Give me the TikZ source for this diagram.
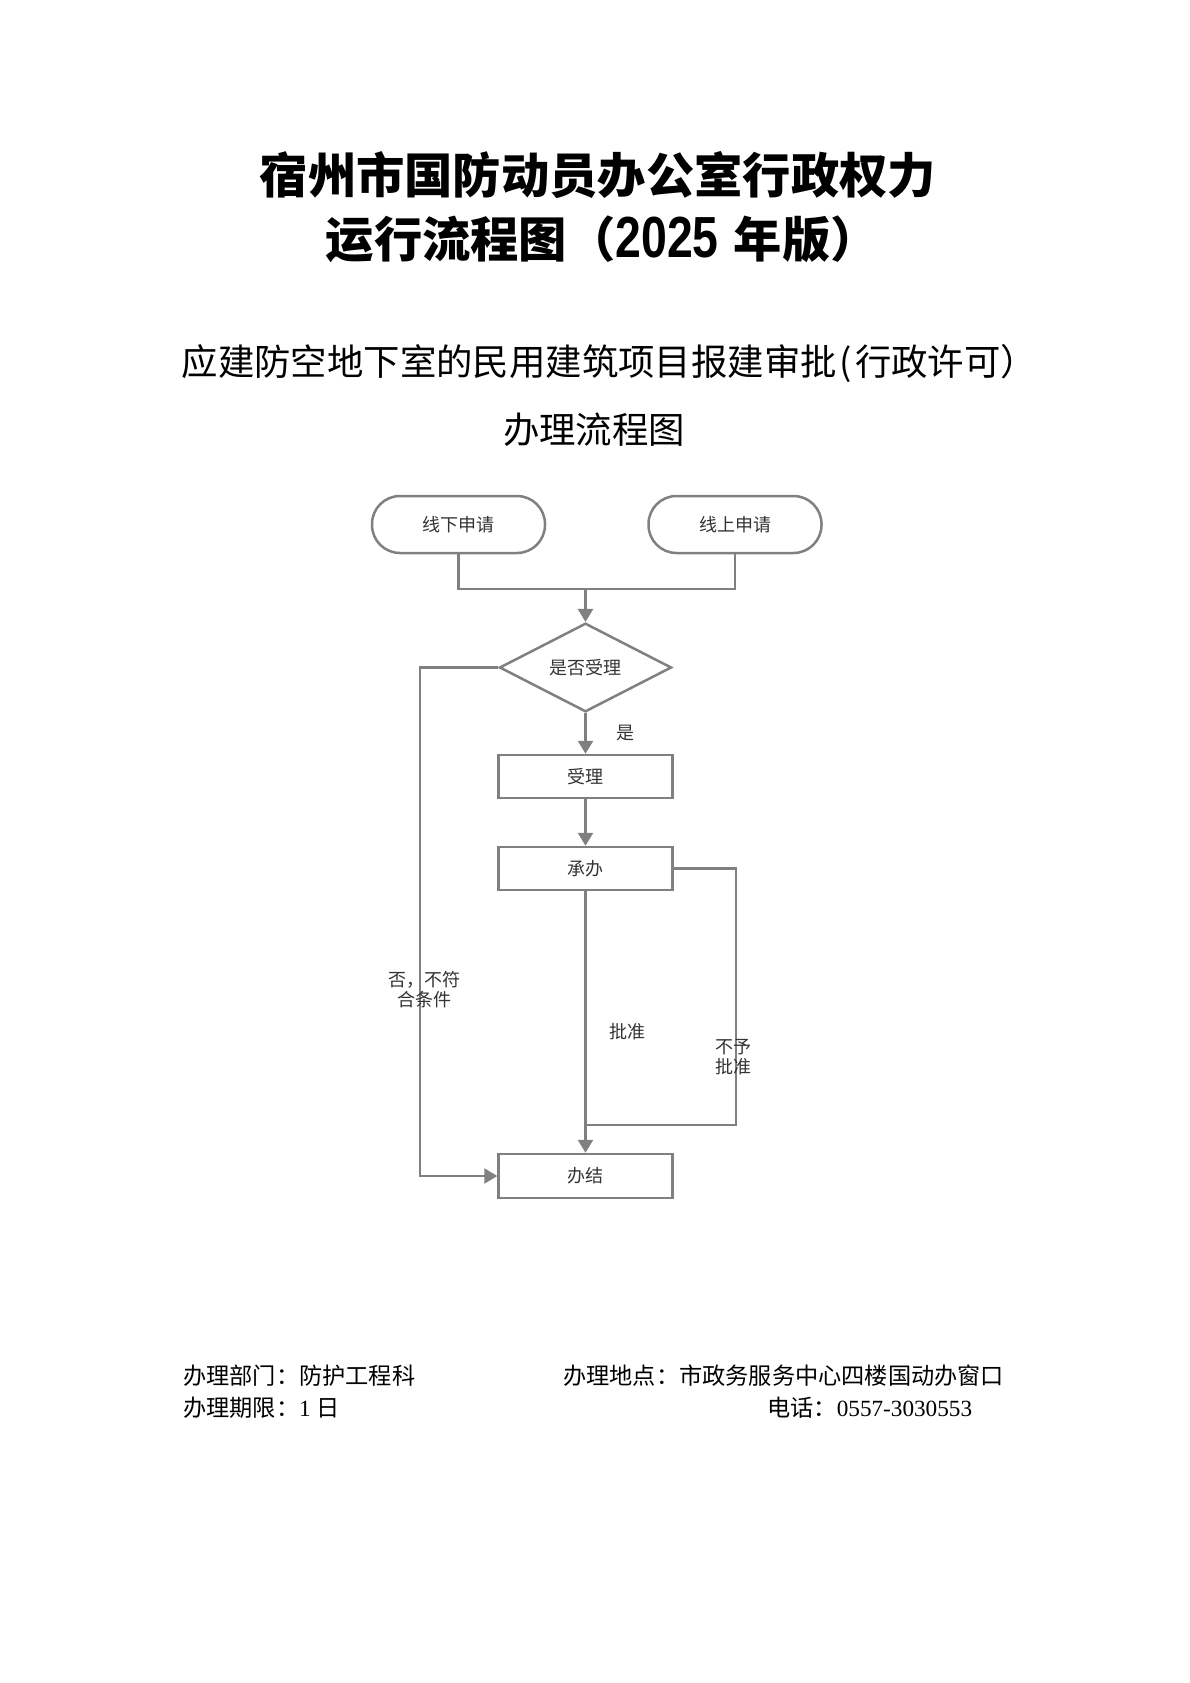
\documentclass[tikz,border=0pt]{standalone}
\usepackage{fontspec}
\setmainfont{Liberation Serif}
\newfontfamily\cjk{Noto Sans CJK SC}
\newfontfamily\lat{Liberation Serif}
\newfontfamily\latsans{Liberation Sans}
\usetikzlibrary{arrows.meta,shapes.geometric}
\definecolor{lc}{HTML}{808080}
\definecolor{tc}{HTML}{333333}
\begin{document}
\begin{tikzpicture}[x=1pt,y=-1pt,
  line/.style={draw=lc, line width=2.5pt},
  arr/.style={line, -{Triangle[width=15pt,length=13pt]}},
  nodefont/.style={font=\cjk\fontsize{18pt}{20pt}\selectfont, text=tc},
  box/.style={draw=lc, line width=2.5pt, minimum width=174pt, minimum height=43pt, inner sep=0pt, nodefont},
  term/.style={box, minimum width=173pt, minimum height=57pt, rounded corners=28pt},
  dec/.style={draw=lc, line width=2.5pt, diamond, minimum width=172pt, minimum height=85pt, inner sep=0pt, nodefont},
  lbl/.style={nodefont, align=center, inner sep=0pt},
  ttl/.style={font=\cjk\bfseries\fontsize{48.3pt}{52pt}\selectfont, inner sep=0pt},
  sub/.style={font=\cjk\fontsize{36.4pt}{40pt}\selectfont, inner sep=0pt},
  foot/.style={font=\cjk\fontsize{23.2pt}{26pt}\selectfont, inner sep=0pt, anchor=west}
]
\fill[white] (0,0) rectangle (1190,1683);
\useasboundingbox (0,0) rectangle (1190,1683);

% titles
\node[ttl, anchor=west] (t1) at (259.5,175) {宿州市国防动员办公室行政权力};
\node[ttl, anchor=west] (t2) at (325.5,239) {运行流程图（\scalebox{0.8}[1]{\latsans\bfseries\fontsize{58pt}{60pt}\selectfont 2025}\kern4pt\ 年版）};
\node[sub, anchor=west] (s1) at (181.5,363) {应建防空地下室的民用建筑项目报建审批\kern3pt(\kern3pt行政许可）};
\node[sub] (s2) at (594,430) {办理流程图};

% nodes
\node[term] (a) at (458.5,524.5) {线下申请};
\node[term] (b) at (735,524.5) {线上申请};
\node[dec] (d) at (585.5,667.5) {是否受理};
\node[box] (s) at (585.5,776.5) {受理};
\node[box] (c) at (585.5,868.5) {承办};
\node[box, minimum height=44pt] (e) at (585.5,1176) {办结};

% junction coordinates
\coordinate (ja) at (458.5,589);
\coordinate (jb) at (735,589);
\coordinate (jm) at (585.5,589);
\coordinate (l1) at (420,667.5);
\coordinate (l2) at (420,1176);
\coordinate (r1) at (736,868.5);
\coordinate (r2) at (736,1125);
\coordinate (rm) at (585.5,1125);

% connectors
\draw[line] (a.south) -- (ja) -- (jb) -- (b.south);
\draw[arr] (jm) -- (d.north);
\draw[arr] (d.south) -- (s.north);
\draw[arr] (s.south) -- (c.north);
\draw[arr] (c.south) -- (e.north);
\draw[line] (c.east) -- (r1) -- (r2) -- (rm);
\draw[arr] (d.west) -- (l1) -- (l2) -- (e.west);

% labels
\node[lbl] (ly) at (625,733) {是};
\node[lbl] (ln) at (424.5,990) {否，不符\\合条件};
\node[lbl] (lp) at (627,1032) {批准};
\node[lbl] (lr) at (733,1057) {不予\\批准};

% footer
\node[foot] (f1) at (183,1376) {办理部门：防护工程科};
\node[foot] (f2) at (183,1408) {办理期限：{\lat 1} 日};
\node[foot] (f3) at (563,1376) {办理地点：市政务服务中心四楼国动办窗口};
\node[foot] (f4) at (767,1408) {电话：{\lat 0557-3030553}};
\end{tikzpicture}
\end{document}
